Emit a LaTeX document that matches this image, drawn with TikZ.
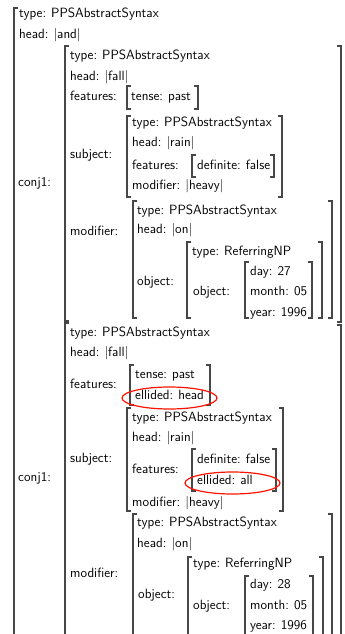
\documentclass[tikz,border=0pt]{standalone}
\usepackage{fontspec}
\begin{document}
\begin{tikzpicture}[x=1pt,y=-1pt,
  lbl/.style={anchor=west,inner sep=0pt,text height=9.3pt,text depth=3pt,
    font=\fontsize{13.4}{16}\sffamily},
  brk/.style={line width=1.1pt,draw=black!72},
  ell/.style={draw=red!85!orange,line width=1.2pt}]
\newcommand\fv[2]{#1:\hspace{0.38em}#2}
% left and right brackets: x, top, bottom
\newcommand\avmL[3]{\draw[brk] (#1+4,#2) -- (#1,#2) -- (#1,#3) -- (#1+4,#3);}
\newcommand\avmR[3]{\draw[brk] (#1-4,#2) -- (#1,#2) -- (#1,#3) -- (#1-4,#3);}
\useasboundingbox (0,0) rectangle (345,634);
\begin{scope}
\clip (0,0) rectangle (345,634);

% outermost structure
\avmL{14}{8}{660}
\node[lbl] (t0) at (19,14) {\fv{type}{PPSAbstractSyntax}};
\node[lbl] (h0) at (19,35) {\fv{head}{|and|}};
\node[lbl] (c1) at (18,183) {conj1:};
\node[lbl] (c2) at (18,478) {conj1:};

% ---------- first conjunct ----------
\avmL{65}{46}{321}
\avmR{341}{46}{322}
\node[lbl] (a-t) at (70,56) {\fv{type}{PPSAbstractSyntax}};
\node[lbl] (a-h) at (70,77) {\fv{head}{|fall|}};
\node[lbl] (a-f) at (70,97) {features:};
\avmL{127}{86}{109}
\avmR{198}{86}{109}
\node[lbl] (a-fv) at (131,97) {\fv{tense}{past}};
\node[lbl] (a-s) at (70,155) {subject:};
\avmL{127}{116}{197}
\avmR{282}{116}{197}
\node[lbl] (a-st) at (132,123) {\fv{type}{PPSAbstractSyntax}};
\node[lbl] (a-sh) at (132,143) {\fv{head}{|rain|}};
\node[lbl] (a-sf) at (132,166) {features:};
\avmL{192}{155}{177}
\avmR{274}{155}{177}
\node[lbl] (a-sfv) at (197,166) {\fv{definite}{false}};
\node[lbl] (a-sm) at (132,186) {\fv{modifier}{|heavy|}};
\node[lbl] (a-m) at (70,232) {modifier:};
\avmL{133}{201}{318}
\avmR{332}{201}{318}
\node[lbl] (a-mt) at (137,211) {\fv{type}{PPSAbstractSyntax}};
\node[lbl] (a-mh) at (137,230) {\fv{head}{|on|}};
\node[lbl] (a-mo) at (137,282) {object:};
\avmL{187}{242}{318}
\avmR{322}{242}{318}
\node[lbl] (a-ot) at (192,252) {\fv{type}{ReferringNP}};
\node[lbl] (a-oo) at (193,292) {object:};
\avmL{245}{262}{318}
\avmR{312}{262}{318}
\node[lbl] (a-d) at (250,272) {\fv{day}{27}};
\node[lbl] (a-mo2) at (250,292) {\fv{month}{05}};
\node[lbl] (a-y) at (250,313) {\fv{year}{1996}};

% ---------- second conjunct ----------
\avmL{65}{323}{660}
\avmR{341}{325}{660}
\node[lbl] (b-t) at (70,333) {\fv{type}{PPSAbstractSyntax}};
\node[lbl] (b-h) at (70,353) {\fv{head}{|fall|}};
\node[lbl] (b-f) at (70,385) {features:};
\avmL{130}{365}{405}
\avmR{210}{365}{405}
\node[lbl] (b-fv1) at (135,375) {\fv{tense}{past}};
\node[lbl] (b-fv2) at (135,396) {\fv{ellided}{head}};
\node[lbl] (b-s) at (70,459) {subject:};
\avmL{127}{408}{511}
\avmR{283}{408}{511}
\node[lbl] (b-st) at (132,418) {\fv{type}{PPSAbstractSyntax}};
\node[lbl] (b-sh) at (132,438) {\fv{head}{|rain|}};
\node[lbl] (b-sf) at (132,470) {features:};
\avmL{192}{449}{491}
\avmR{276}{449}{491}
\node[lbl] (b-sfv1) at (197,460) {\fv{definite}{false}};
\node[lbl] (b-sfv2) at (197,481) {\fv{ellided}{all}};
\node[lbl] (b-sm) at (132,503) {\fv{modifier}{|heavy|}};
\node[lbl] (b-m) at (70,574) {modifier:};
\avmL{133}{514}{660}
\avmR{332}{514}{660}
\node[lbl] (b-mt) at (137,523) {\fv{type}{PPSAbstractSyntax}};
\node[lbl] (b-mh) at (137,544) {\fv{head}{|on|}};
\node[lbl] (b-mo) at (138,595) {object:};
\avmL{188}{557}{660}
\avmR{323}{557}{660}
\node[lbl] (b-ot) at (193,564) {\fv{type}{ReferringNP}};
\node[lbl] (b-oo) at (193,606) {object:};
\avmL{245}{576}{638}
\avmR{313}{576}{638}
\node[lbl] (b-d) at (250,585) {\fv{day}{28}};
\node[lbl] (b-mo2) at (250,606) {\fv{month}{05}};
\node[lbl] (b-y) at (250,626) {\fv{year}{1996}};

% highlighted ellided features
\draw[ell] (169.5,398) ellipse [x radius=47.5, y radius=11];
\draw[ell] (232.5,483) ellipse [x radius=47.5, y radius=11];
\end{scope}
\end{tikzpicture}
\end{document}
